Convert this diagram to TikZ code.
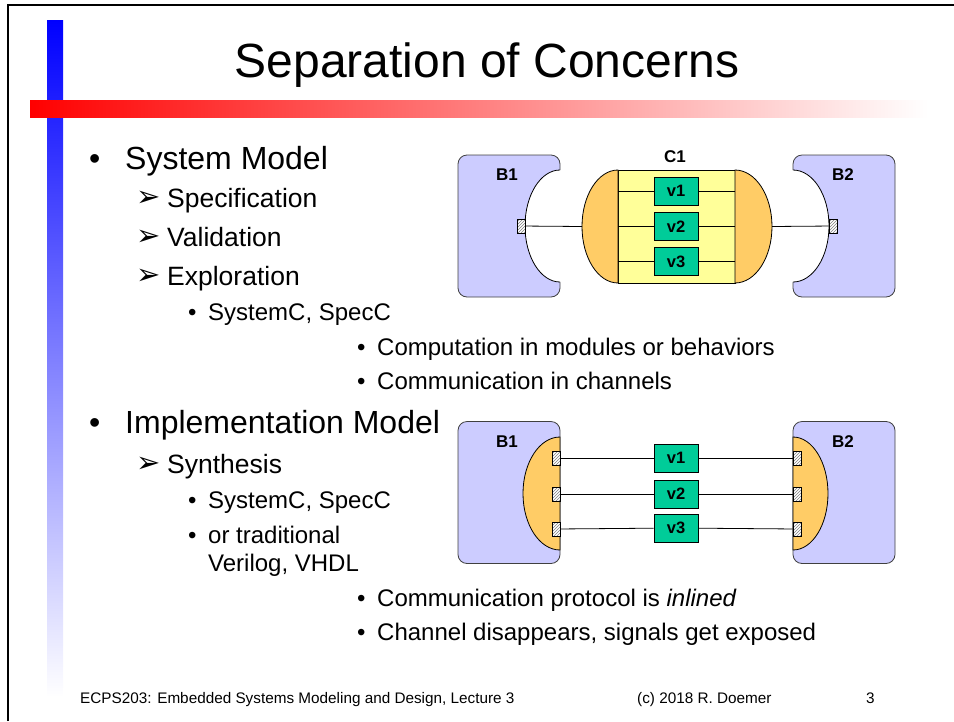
\documentclass[tikz,border=0pt]{standalone}
\usepackage{fontspec}
\setmainfont{Liberation Sans}
\newfontfamily\dingfont{DejaVu Sans}
\usepackage{tikz}
\usetikzlibrary{positioning,patterns}
\definecolor{barblue}{HTML}{0000FF}
\definecolor{barred}{HTML}{FF0000}
\definecolor{blockfill}{HTML}{CCCCFF}
\definecolor{chanfill}{HTML}{FFCC66}
\definecolor{chanmidfill}{HTML}{FFFF99}
\definecolor{varfill}{HTML}{00CC99}
\definecolor{edgegray}{HTML}{404040}
\tikzset{
  % --- slide text ---
  titletext/.style={font=\fontsize{48}{56}\selectfont, inner sep=0pt, anchor=base},
  lvlone/.style={font=\fontsize{32}{38}\selectfont, inner sep=0pt, anchor=base west},
  lvltwo/.style={font=\fontsize{26.5}{32}\selectfont, inner sep=0pt, anchor=base west},
  lvlthree/.style={font=\fontsize{24}{29}\selectfont, inner sep=0pt, anchor=base west},
  arrowmark/.style={font=\dingfont\fontsize{29}{34}\selectfont, inner sep=0pt,
                    anchor=base west},
  footnote/.style={font=\fontsize{15.3}{18}\selectfont, inner sep=0pt, anchor=base west},
  % --- behaviors, channel, variables ---
  blockbox/.style={draw=edgegray, fill=blockfill, rounded corners=9pt, line width=0.8pt,
                   minimum width=102pt, minimum height=142pt, inner sep=0pt, outer sep=0pt},
  blocklabel/.style={font=\fontsize{17}{20}\selectfont\bfseries, inner sep=0pt},
  chanend/.style={draw=black, fill=chanfill, line width=0.8pt},
  chanmid/.style={draw=black, fill=chanmidfill, line width=0.8pt, minimum width=117pt,
                  minimum height=113pt, inner sep=0pt, outer sep=0pt},
  varbox/.style={draw=black, fill=varfill, line width=0.8pt, minimum width=44pt,
                 minimum height=28pt, inner sep=0pt, font=\fontsize{16.5}{20}\selectfont\bfseries},
  portbox/.style={draw=black, line width=0.6pt, preaction={fill=white},
                  pattern=north east lines, pattern color=gray,
                  minimum width=8pt, minimum height=14pt, inner sep=0pt},
  wire/.style={draw=black, line width=0.8pt},
  cutline/.style={draw=black, line width=0.8pt},
}

\begin{document}
\begin{tikzpicture}[x=1pt, y=-1pt]
  \useasboundingbox (0,0) rectangle (954,721);
  % slide frame and the two bars
  \draw[line width=2pt] (8,721) -- (8,5) -- (954,5);
  \shade[top color=barblue, middle color=barblue!30!white, bottom color=white]
        (47,20) rectangle (63,697);
  \shade[left color=barred, middle color=barred!35!white, right color=white]
        (30,100) rectangle (928,117);
  \node[titletext] (title) at (487,77) {Separation of Concerns};

  % bullet list
  \node[lvlone] (dot1) at (89,169) {•};
  \node[lvlone] (sysmod) at (125,169) {System Model};
  \node[arrowmark] (arr1) at (136,206) {➢};
  \node[lvltwo] (spec) at (167,207) {Specification};
  \node[arrowmark] (arr2) at (136,245) {➢};
  \node[lvltwo] (valid) at (167,246) {Validation};
  \node[arrowmark] (arr3) at (136,284) {➢};
  \node[lvltwo] (explo) at (167,285) {Exploration};
  \node[lvlthree] (dot2) at (188,320) {•};
  \node[lvlthree] (lang1) at (208,320) {SystemC, SpecC};
  \node[lvlthree] (dot3) at (357,355) {•};
  \node[lvlthree] (comp) at (377,355) {Computation in modules or behaviors};
  \node[lvlthree] (dot4) at (357,389) {•};
  \node[lvlthree] (comm) at (377,389) {Communication in channels};
  \node[lvlone] (dot5) at (89,433) {•};
  \node[lvlone] (impmod) at (125,433) {Implementation Model};
  \node[arrowmark] (arr4) at (136,472) {➢};
  \node[lvltwo] (synth) at (167,473) {Synthesis};
  \node[lvlthree] (dot6) at (188,508) {•};
  \node[lvlthree] (lang2) at (208,508) {SystemC, SpecC};
  \node[lvlthree] (dot7) at (188,543) {•};
  \node[lvlthree] (trad) at (208,543) {or traditional};
  \node[lvlthree] (hdl) at (208,571) {Verilog, VHDL};
  \node[lvlthree] (dot8) at (357,606) {•};
  \node[lvlthree] (inl) at (377,606) {Communication protocol is \textit{inlined}};
  \node[lvlthree] (dot9) at (357,640) {•};
  \node[lvlthree] (expo) at (377,640) {Channel disappears, signals get exposed};

  % footer
  \node[footnote] (course) at (80,703) {ECPS203: Embedded Systems Modeling and Design, Lecture 3};
  \node[footnote] (copy) at (637,703) {(c) 2018 R. Doemer};
  \node[footnote] (pageno) at (866,703) {3};

  % system model: B1 -- C1 -- B2
  \node[blockbox] (b1sys) at (509,226) {};
  \node[blockbox] (b2sys) at (844,226) {};
  \fill[white] (560,170) arc[start angle=270, end angle=90, x radius=35, y radius=56]
        -- (562,282) -- (562,170) -- cycle;
  \draw[cutline] (560,170) arc[start angle=270, end angle=90, x radius=35, y radius=56];
  \fill[white] (793,170) arc[start angle=270, end angle=450, x radius=36, y radius=56]
        -- (791,282) -- (791,170) -- cycle;
  \draw[cutline] (793,170) arc[start angle=270, end angle=450, x radius=36, y radius=56];
  \node[blocklabel] (b1syslab) at (507,175) {B1};
  \node[blocklabel] (b2syslab) at (843,175) {B2};

  \node[chanmid] (c1) at (676.5,226.5) {};
  \draw[chanend] (c1.north west) arc[start angle=270, end angle=90, x radius=36, y radius=56.5] -- cycle;
  \draw[chanend] (c1.north east) arc[start angle=270, end angle=450, x radius=37, y radius=56.5] -- cycle;
  \node[blocklabel] (c1lab) at (675,157) {C1};
  \coordinate (c1w) at ([xshift=-36pt]c1.west);
  \coordinate (c1e) at ([xshift=37pt]c1.east);

  \node[varbox] (v1sys) at (676,191) {v1};
  \node[varbox] (v2sys) at (676,226.5) {v2};
  \node[varbox] (v3sys) at (676,261.5) {v3};
  \draw[wire] (c1.west |- v1sys) -- (v1sys);
  \draw[wire] (v1sys) -- (c1.east |- v1sys);
  \draw[wire] (c1.west |- v2sys) -- (v2sys);
  \draw[wire] (v2sys) -- (c1.east |- v2sys);
  \draw[wire] (c1.west |- v3sys) -- (v3sys);
  \draw[wire] (v3sys) -- (c1.east |- v3sys);

  \node[portbox] (p1sys) at (521,226) {};
  \node[portbox] (p2sys) at (833,226) {};
  \draw[wire] (p1sys) -- (c1w);
  \draw[wire] (c1e) -- (p2sys);

  % implementation model: channel inlined into B1 and B2
  \node[blockbox] (b1imp) at (509,492.5) {};
  \node[blockbox] (b2imp) at (844,492.5) {};
  \draw[chanend] (560,437) arc[start angle=270, end angle=90, x radius=37, y radius=56.5] -- cycle;
  \draw[chanend] (793,437) arc[start angle=270, end angle=450, x radius=35, y radius=56.5] -- cycle;
  \node[blocklabel] (b1implab) at (507,442) {B1};
  \node[blocklabel] (b2implab) at (843,442) {B2};

  \node[varbox] (v1imp) at (676,458) {v1};
  \node[varbox] (v2imp) at (676,494) {v2};
  \node[varbox] (v3imp) at (676,528) {v3};
  \node[portbox] (pl1) at (556,458) {};
  \node[portbox] (pl2) at (556,494) {};
  \node[portbox] (pl3) at (556,529) {};
  \node[portbox] (pr1) at (797,458) {};
  \node[portbox] (pr2) at (797,494) {};
  \node[portbox] (pr3) at (797,529) {};
  \draw[wire] (pl1) -- (v1imp);
  \draw[wire] (v1imp) -- (pr1);
  \draw[wire] (pl2) -- (v2imp);
  \draw[wire] (v2imp) -- (pr2);
  \draw[wire] (pl3) -- (v3imp);
  \draw[wire] (v3imp) -- (pr3);
\end{tikzpicture}
\end{document}
